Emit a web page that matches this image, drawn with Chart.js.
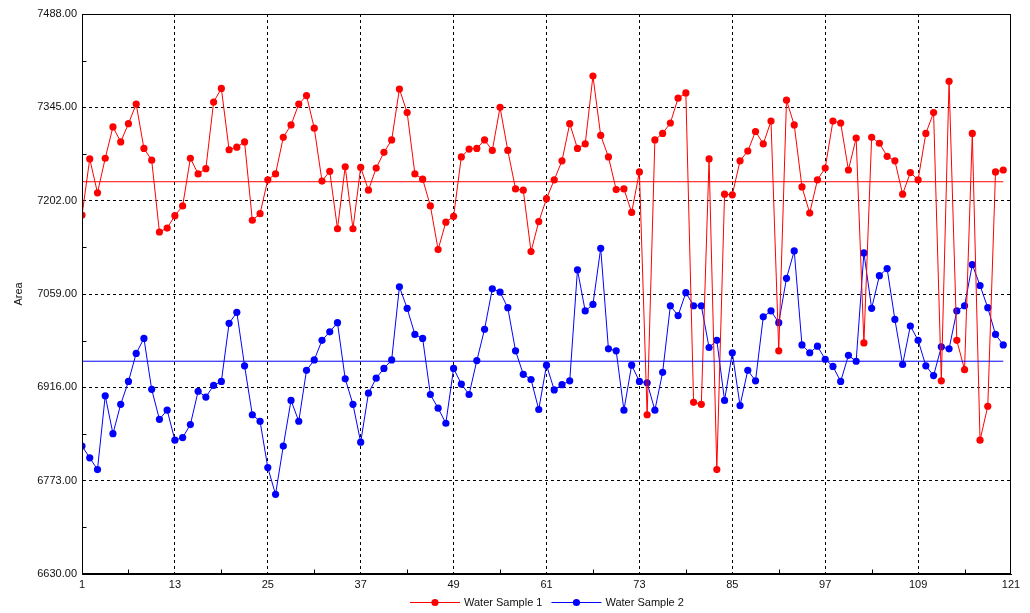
<!DOCTYPE html>
<html><head><meta charset="utf-8">
<script src="https://cdn.jsdelivr.net/npm/chart.js@4.4.1/dist/chart.umd.min.js"></script>
<style>html,body{margin:0;padding:0;background:#fff;}#wrap{width:1030px;height:613px;}</style>
</head><body><div id="wrap"><canvas id="c" width="1030" height="613"></canvas></div>
<script>
const sampleNumbers = Array.from({length: 120}, (_, i) => i + 1);
const waterSample1 = [
7180,7266,7214,7267,7315,7292,7320,7350,7282,7264,
7154,7160,7179,7194,7267,7243,7251,7353,7374,7280,
7284,7292,7172,7182,7234,7243,7299,7318,7350,7363,
7313,7232,7247,7159,7254,7159,7253,7218,7252,7276,
7295,7373,7337,7243,7235,7194,7127,7169,7178,7269,
7281,7282,7295,7279,7345,7279,7220,7218,7124,7170,
7205,7234,7263,7320,7282,7289,7393,7302,7269,7219,
7220,7184,7246,6874,7295,7305,7321,7359,7367,6893,
6890,7266,6790,7212,7211,7263,7278,7308,7289,7324,
6972,7356,7318,7223,7183,7234,7252,7324,7321,7249,
7298,6984,7299,7290,7270,7263,7212,7245,7234,7305,
7337,6926,7385,6988,6943,7305,6835,6887,7246,7249];
const waterSample2 = [
6826,6808,6790,6903,6845,6890,6925,6968,6991,6913,
6867,6881,6835,6839,6859,6910,6901,6919,6925,7014,
7031,6949,6874,6864,6793,6752,6826,6896,6864,6942,
6958,6988,7001,7015,6929,6890,6832,6907,6930,6945,
6958,7070,7037,6997,6991,6905,6884,6861,6945,6921,
6905,6957,7005,7067,7062,7038,6972,6936,6928,6882,
6950,6912,6920,6926,7096,7033,7043,7129,6975,6972,
6881,6950,6925,6923,6881,6939,7041,7026,7061,7041,
7041,6977,6988,6896,6969,6888,6942,6926,7024,7033,
7015,7083,7125,6981,6969,6979,6959,6948,6925,6965,
6956,7122,7037,7087,7098,7020,6951,7010,6988,6949,
6934,6978,6975,7033,7041,7104,7072,7038,6997,6981];
const meanSample1 = 7231;
const meanSample2 = 6956;
const xTickLabels = [1,13,25,37,49,61,73,85,97,109,121];
const yTickLabels = [6630,6773,6916,7059,7202,7345,7488];
const seriesNames = ['Water Sample 1','Water Sample 2'];
const seriesColors = ['#ff0000','#0000ff'];

const FONT = "'Liberation Sans', Arial, sans-serif";

function toPoints(vals){ return vals.map((v,i)=>({x: sampleNumbers[i], y: v})); }
function meanLine(m){ return [{x: sampleNumbers[0], y: m},{x: sampleNumbers[sampleNumbers.length-1], y: m}]; }

const framePlugin = {
  id: 'frame',
  afterDraw(chart){
    const {ctx, chartArea: a, scales} = chart;
    ctx.save();
    ctx.strokeStyle = '#000'; ctx.lineWidth = 1; ctx.setLineDash([]);
    const L = Math.round(a.left)+0.5, R = Math.round(a.right)-0.5, T = Math.round(a.top)+0.5, B = Math.round(a.bottom)-0.5;
    ctx.strokeRect(L, T, R-L, B-T);
    ctx.beginPath();
    for (let i=0;i<yTickLabels.length-1;i++){
      const y = Math.round(scales.y.getPixelForValue((yTickLabels[i]+yTickLabels[i+1])/2))+0.5;
      ctx.moveTo(L, y); ctx.lineTo(L+4, y);
    }
    for (let i=0;i<xTickLabels.length-1;i++){
      const x = Math.round(scales.x.getPixelForValue((xTickLabels[i]+xTickLabels[i+1])/2))+0.5;
      ctx.moveTo(x, B); ctx.lineTo(x, B-4);
    }
    ctx.stroke();
    ctx.font = '11px ' + FONT;
    ctx.textBaseline = 'middle';
    const lineW = 50, gapT = 4, gapI = 9;
    const widths = seriesNames.map(n => lineW + gapT + ctx.measureText(n).width);
    const total = widths.reduce((s,w)=>s+w,0) + gapI*(widths.length-1);
    let x = Math.round((a.left + a.right)/2 - total/2);
    const y = 602.5;
    seriesNames.forEach((n,i)=>{
      ctx.strokeStyle = seriesColors[i]; ctx.fillStyle = seriesColors[i];
      ctx.beginPath(); ctx.moveTo(x, y); ctx.lineTo(x+lineW, y); ctx.stroke();
      ctx.beginPath(); ctx.arc(x+lineW/2, y, 3.6, 0, Math.PI*2); ctx.fill();
      ctx.fillStyle = '#111';
      ctx.fillText(n, x+lineW+gapT, y);
      x += widths[i] + gapI;
    });
    ctx.restore();
  }
};

const edgeless = (lo, hi) => ctx => (ctx.tick && (ctx.tick.value === lo || ctx.tick.value === hi)) ? 'rgba(0,0,0,0)' : '#000';

new Chart(document.getElementById('c'), {
  type: 'line',
  data: {
    datasets: [
      {label: 'mean1', data: meanLine(meanSample1), borderColor: seriesColors[0], borderWidth: 1, pointRadius: 0, tension: 0},
      {label: 'mean2', data: meanLine(meanSample2), borderColor: seriesColors[1], borderWidth: 1, pointRadius: 0, tension: 0},
      {label: seriesNames[0], data: toPoints(waterSample1), borderColor: seriesColors[0], backgroundColor: seriesColors[0], borderWidth: 1, pointRadius: 3.6, pointBorderWidth: 0, pointBackgroundColor: seriesColors[0], tension: 0},
      {label: seriesNames[1], data: toPoints(waterSample2), borderColor: seriesColors[1], backgroundColor: seriesColors[1], borderWidth: 1, pointRadius: 3.6, pointBorderWidth: 0, pointBackgroundColor: seriesColors[1], tension: 0}
    ]
  },
  options: {
    responsive: false,
    animation: false,
    devicePixelRatio: 1,
    layout: {padding: {left: 0, right: 19, top: 14, bottom: 21}},
    plugins: {legend: {display: false}, tooltip: {enabled: false}},
    elements: {line: {fill: false}},
    scales: {
      x: {
        type: 'linear', min: 1, max: 121,
        afterBuildTicks: s => { s.ticks = xTickLabels.map(v => ({value: v})); },
        afterFit: s => { s.height = 18; },
        ticks: {font: {family: FONT, size: 11}, color: '#111', padding: 4, maxRotation: 0, autoSkip: false, callback: v => String(v)},
        grid: {color: edgeless(1, 121), lineWidth: 1, drawTicks: false},
        border: {display: true, color: '#000', dash: [3,3]}
      },
      y: {
        type: 'linear', min: 6630, max: 7488,
        afterBuildTicks: s => { s.ticks = yTickLabels.map(v => ({value: v})); },
        afterFit: s => { s.width = 82; },
        ticks: {font: {family: FONT, size: 11}, color: '#111', padding: 5, autoSkip: false, callback: v => Number(v).toFixed(2)},
        grid: {color: edgeless(6630, 7488), lineWidth: 1, drawTicks: false},
        border: {display: true, color: '#000', dash: [3,3]},
        title: {display: true, text: 'Area', font: {family: FONT, size: 11}, color: '#111', padding: {top: 12, bottom: 0}}
      }
    }
  },
  plugins: [framePlugin]
});
</script></body></html>
